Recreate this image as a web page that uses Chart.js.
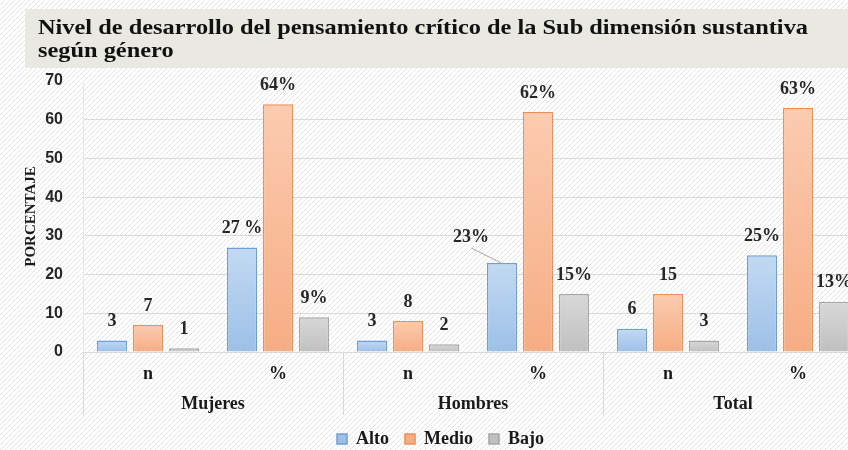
<!DOCTYPE html>
<html lang="es">
<head>
  <meta charset="UTF-8">
  <title>Nivel de desarrollo del pensamiento crítico</title>
  <script src="https://cdn.jsdelivr.net/npm/chart.js"></script>
  <style>
    html, body {
      margin: 0;
      padding: 0;
      overflow: hidden;
      background: #fff;
    }
    #wrap {
      width: 870px;
      height: 450px;
    }
  </style>
</head>
<body>
  <div id="wrap"><canvas id="chart" width="870" height="450"></canvas></div>

  <script>
    // Data
    const groups = ['Mujeres', 'Hombres', 'Total'];
    const subLabels = ['n', '%', 'n', '%', 'n', '%'];
    const alto = [3, 27, 3, 23, 6, 25];
    const medio = [7, 64, 8, 62, 15, 63];
    const bajo = [1, 9, 2, 15, 3, 13];
    const altoText = ['3', '27 %', '3', '23%', '6', '25%'];
    const medioText = ['7', '64%', '8', '62%', '15', '63%'];
    const bajoText = ['1', '9%', '2', '15%', '3', '13%'];
    const yTicks = [0, 10, 20, 30, 40, 50, 60, 70];

    const titleLines = [
      'Nivel de desarrollo del pensamiento crítico de la Sub dimensión sustantiva',
      'según género'
    ];

    const serif = '"Liberation Serif", "Times New Roman", serif';

    // diagonal hatch used as page background
    function hatch() {
      const c = document.createElement('canvas');
      c.width = 5; c.height = 5;
      const g = c.getContext('2d');
      g.fillStyle = '#ffffff';
      g.fillRect(0, 0, 5, 5);
      g.strokeStyle = '#e3e3e3';
      g.lineWidth = 1;
      g.beginPath();
      g.moveTo(-1, 6); g.lineTo(6, -1);
      g.moveTo(-1, 1); g.lineTo(1, -1);
      g.moveTo(4, 6); g.lineTo(6, 4);
      g.stroke();
      return g.createPattern(c, 'repeat');
    }

    // soft top-to-bottom shading inside each bar
    function shade(base, light) {
      return (c) => {
        const chart = c.chart;
        if (!chart.chartArea || c.type !== 'data') return base;
        const ys = chart.scales.y;
        const top = ys.getPixelForValue(c.raw);
        const bottom = ys.getPixelForValue(0);
        if (!isFinite(top) || bottom - top < 1) return base;
        const g = chart.ctx.createLinearGradient(0, top, 0, bottom);
        g.addColorStop(0, light);
        g.addColorStop(1, base);
        return g;
      };
    }

    const backdrop = {
      id: 'backdrop',
      beforeDraw(chart) {
        const ctx = chart.ctx;
        ctx.save();
        ctx.fillStyle = hatch();
        ctx.fillRect(0, 0, chart.width, chart.height);
        // title band
        ctx.fillStyle = '#e9e9e1';
        ctx.fillRect(25, 9, chart.width - 25, 59);
        ctx.fillStyle = '#111';
        ctx.font = 'bold 22px ' + serif;
        ctx.textBaseline = 'alphabetic';
        const w = ctx.measureText(titleLines[0]).width;
        const sx = 770 / w;
        ctx.translate(38, 0);
        ctx.scale(sx, 1);
        ctx.fillText(titleLines[0], 0, 34);
        ctx.fillText(titleLines[1], 0, 57);
        ctx.restore();
      }
    };

    // value labels, group labels and separators under the axis
    const annotate = {
      id: 'annotate',
      afterDatasetsDraw(chart) {
        const ctx = chart.ctx;
        const texts = [altoText, medioText, bajoText];
        ctx.save();
        ctx.font = 'bold 18px ' + serif;
        ctx.fillStyle = '#262626';
        ctx.textAlign = 'center';
        ctx.textBaseline = 'middle';
        chart.data.datasets.forEach((ds, di) => {
          const meta = chart.getDatasetMeta(di);
          meta.data.forEach((bar, i) => {
            let x = bar.x, y = bar.y - 19;
            if (di === 0 && i === 3) {
              // label moved aside with a leader line
              x = bar.x - 31; y = bar.y - 26;
              ctx.save();
              ctx.strokeStyle = '#a6a6a6';
              ctx.lineWidth = 1;
              ctx.beginPath();
              ctx.moveTo(x, y + 11);
              ctx.lineTo(bar.x - 1, bar.y);
              ctx.stroke();
              ctx.restore();
            }
            ctx.fillText(texts[di][i], x, y);
          });
        });

        const xs = chart.scales.x;
        const base = chart.chartArea.bottom;
        ctx.strokeStyle = '#d9d9d9';
        ctx.lineWidth = 1;
        ctx.beginPath();
        for (let g = 0; g <= groups.length; g++) {
          const edge = g < groups.length
            ? xs.getPixelForValue(g * 2) - (xs.getPixelForValue(1) - xs.getPixelForValue(0)) / 2
            : chart.chartArea.right;
          ctx.moveTo(Math.round(edge) + 0.5, base);
          ctx.lineTo(Math.round(edge) + 0.5, base + 63);
        }
        ctx.stroke();

        ctx.font = 'bold 18px ' + serif;
        ctx.fillStyle = '#1a1a1a';
        ctx.textBaseline = 'alphabetic';
        groups.forEach((name, g) => {
          const cx = (xs.getPixelForValue(g * 2) + xs.getPixelForValue(g * 2 + 1)) / 2;
          ctx.fillText(name, cx, base + 57);
        });
        ctx.restore();
      }
    };

    const ctx = document.getElementById('chart').getContext('2d');
    const chart = new Chart(ctx, {
      type: 'bar',
      data: {
        labels: subLabels,
        datasets: [
          {
            label: 'Alto',
            data: alto,
            backgroundColor: shade('#9dc0e8', '#c3d9f2'),
            borderColor: '#6c9fd8',
            borderWidth: 1.5
          },
          {
            label: 'Medio',
            data: medio,
            backgroundColor: shade('#f6ad84', '#fbcbb0'),
            borderColor: '#ef8f56',
            borderWidth: 1.5
          },
          {
            label: 'Bajo',
            data: bajo,
            backgroundColor: shade('#c0c0c0', '#d8d8d8'),
            borderColor: '#a6a6a6',
            borderWidth: 1.5
          }
        ]
      },
      options: {
        responsive: false,
        animation: false,
        datasets: {
          bar: {
            categoryPercentage: 0.83,
            barPercentage: 0.84
          }
        },
        layout: {
          padding: { top: 81, left: 18, right: 7, bottom: -8 }
        },
        plugins: {
          legend: {
            position: 'bottom',
            labels: {
              boxWidth: 10,
              boxHeight: 10,
              padding: 16,
              color: '#1a1a1a',
              font: { family: serif, size: 18, weight: 'bold' }
            }
          },
          tooltip: { enabled: false }
        },
        scales: {
          y: {
            min: 0,
            max: 70,
            afterBuildTicks(scale) {
              scale.ticks = yTicks.map(v => ({ value: v }));
            },
            afterFit(scale) {
              scale.width = 65;
            },
            ticks: {
              color: '#262626',
              padding: 20,
              font: { family: '"Liberation Sans", Arial, sans-serif', size: 16, weight: 'bold' }
            },
            grid: {
              drawTicks: false,
              color: c => (c.tick && c.tick.value === 70 ? 'rgba(0,0,0,0)' : '#d9d9d9')
            },
            border: { display: true, color: '#e4e8ef' },
            title: {
              display: true,
              text: 'PORCENTAJE',
              color: '#1a1a1a',
              font: { family: serif, size: 15, weight: 'bold' }
            }
          },
          x: {
            afterFit(scale) {
              scale.height = 62;
            },
            ticks: {
              color: '#1a1a1a',
              padding: 4,
              maxRotation: 0,
              font: { family: serif, size: 18, weight: 'bold' }
            },
            grid: { display: false },
            border: { display: true, color: '#d9d9d9' }
          }
        }
      },
      plugins: [backdrop, annotate]
    });
  </script>
</body>
</html>
